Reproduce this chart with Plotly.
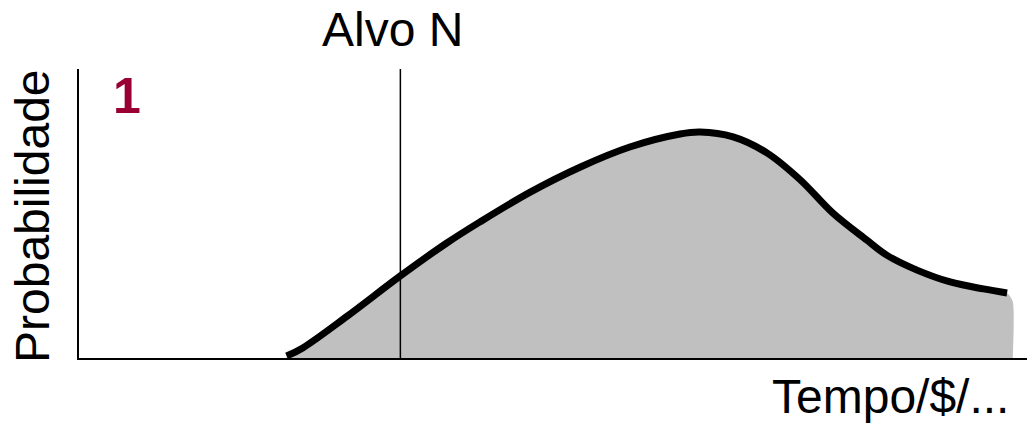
import plotly.graph_objects as go

# Curve values (x: Tempo/$ in arbitrary units 0..10, y: probability 0..1)
curve_x = [2.19, 2.36, 2.83, 3.39, 3.88, 4.23, 4.76, 5.29, 5.81, 6.34, 6.55,
           6.90, 7.26, 7.61, 7.95, 8.31, 8.52, 8.84, 9.19, 9.54, 9.79]
curve_y = [0.007, 0.035, 0.145, 0.284, 0.398, 0.471, 0.574, 0.661, 0.730, 0.775, 0.782,
           0.765, 0.709, 0.616, 0.502, 0.408, 0.356, 0.304, 0.263, 0.239, 0.225]
fill_end_x = 9.85
target_x = 3.39  # Alvo N

x_range = [0, 10]
y_range = [0, 1]

FONT = "Liberation Sans, Arial, sans-serif"

fig = go.Figure()

# Shaded area
fx = [curve_x[0]] + curve_x + [fill_end_x, fill_end_x]
fy = [0] + curve_y + [curve_y[-1] - 0.03, 0]
fig.add_trace(go.Scatter(x=fx, y=fy, mode="lines", line=dict(width=0, color="#c0c0c0", shape="spline", smoothing=0.6),
                         fill="toself", fillcolor="#c0c0c0", hoverinfo="skip", showlegend=False))

# Target vertical line
fig.add_trace(go.Scatter(x=[target_x, target_x], y=[0, 1], mode="lines",
                         line=dict(color="black", width=1.5), showlegend=False, hoverinfo="skip"))

# Curve outline
fig.add_trace(go.Scatter(x=curve_x, y=curve_y, mode="lines",
                         line=dict(color="black", width=7, shape="spline", smoothing=1.0),
                         showlegend=False))

W, H = 1027, 423
fig.update_layout(
    width=W, height=H,
    margin=dict(l=0, r=0, t=0, b=0),
    paper_bgcolor="white", plot_bgcolor="white",
    font=dict(family=FONT, color="black"),
    xaxis=dict(domain=[79 / W, 1], range=x_range, showline=True, linecolor="black", linewidth=2,
               showgrid=False, zeroline=False, showticklabels=False, ticks=""),
    yaxis=dict(domain=[(H - 358) / H, (H - 69) / H], range=y_range, showline=True, linecolor="black",
               linewidth=2, showgrid=False, zeroline=False, showticklabels=False, ticks=""),
    annotations=[
        dict(text="Alvo N", xref="paper", yref="paper", x=392 / W, y=1 - 30 / H,
             xanchor="center", yanchor="middle", showarrow=False, font=dict(size=48, family=FONT)),
        dict(text="Tempo/$/...", xref="paper", yref="paper", x=890 / W, y=1 - 396 / H,
             xanchor="center", yanchor="middle", showarrow=False, font=dict(size=48, family=FONT)),
        dict(text="Probabilidade", xref="paper", yref="paper", x=33 / W, y=1 - 216 / H,
             xanchor="center", yanchor="middle", textangle=-90, showarrow=False,
             font=dict(size=48, family=FONT)),
        dict(text="<b>1</b>", xref="paper", yref="paper", x=127 / W, y=1 - 96 / H,
             xanchor="center", yanchor="middle", showarrow=False,
             font=dict(size=50, family=FONT, color="#990033")),
    ],
)

fig.write_html("out.html", config={"displayModeBar": False},
               post_script="document.body.style.margin='0';document.body.style.overflow='hidden';")
